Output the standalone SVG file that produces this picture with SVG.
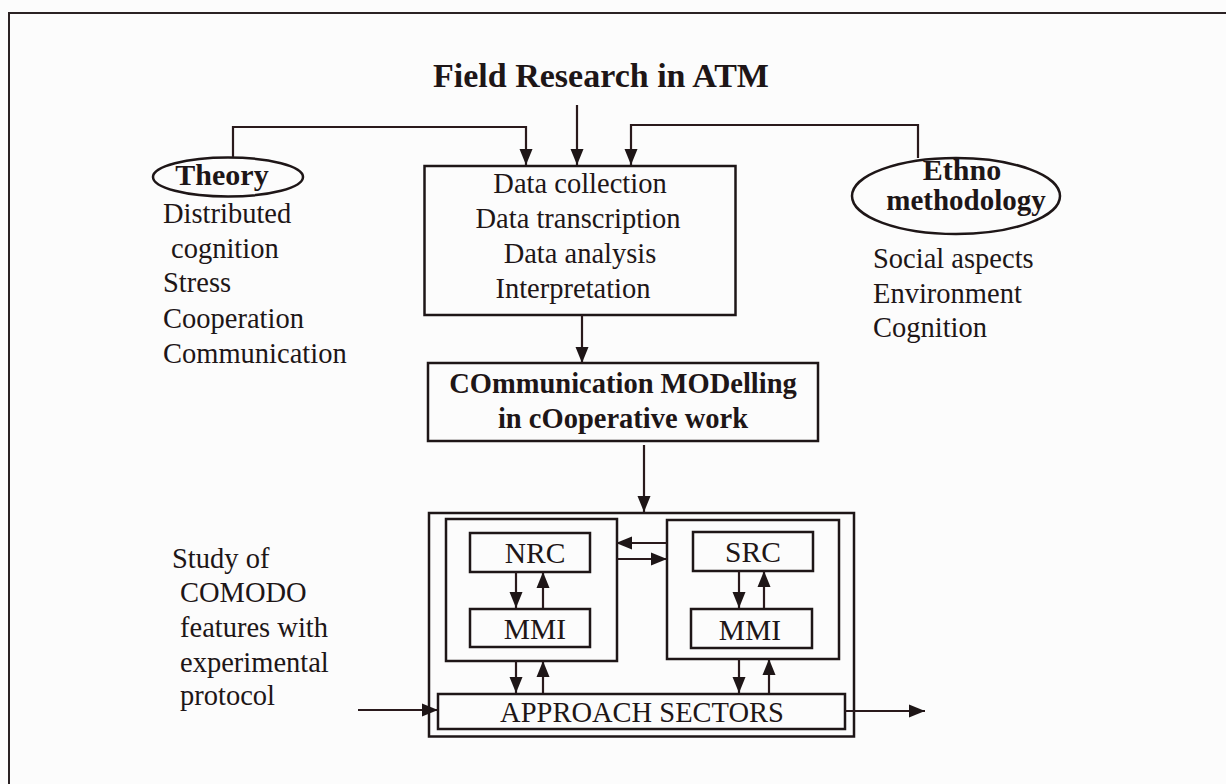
<svg xmlns="http://www.w3.org/2000/svg" width="1226" height="784" viewBox="0 0 1226 784">
<defs>
<style>
.t{font-family:"Liberation Serif","Times New Roman",serif;font-size:28.5px;fill:#1e1617}
.b{font-weight:bold}
.m{text-anchor:middle}
.box{fill:none;stroke:#1e1617;stroke-width:2.5}
.ln{fill:none;stroke:#2a1a1c;stroke-width:2.2}
</style>
<marker id="ah" markerUnits="userSpaceOnUse" markerWidth="16" markerHeight="14" viewBox="0 0 16 14" refX="16" refY="7" orient="auto">
<path d="M0,0.5 L16,7 L0,13.5 Z" fill="#1e1617"/>
</marker>
</defs>
<rect x="0" y="0" width="1226" height="784" fill="#fcfcfc"/>
<path d="M9,784 V13 H1226" fill="none" stroke="#2b2224" stroke-width="2"/>

<text class="t b m" x="601" y="87" style="font-size:34px">Field Research in ATM</text>

<g id="theory">
<ellipse cx="228" cy="177" rx="75" ry="19.5" class="box" stroke-width="2.2"/>
<text class="t b m" x="222" y="185" style="font-size:30px">Theory</text>
<text class="t" x="163" y="223">Distributed</text>
<text class="t" x="171" y="258">cognition</text>
<text class="t" x="163" y="292">Stress</text>
<text class="t" x="163" y="328">Cooperation</text>
<text class="t" x="163" y="363">Communication</text>
</g>

<g id="ethno">
<ellipse cx="956" cy="196" rx="104" ry="38" class="box" stroke-width="2.2"/>
<text class="t b m" x="962" y="180" style="font-size:30px">Ethno</text>
<text class="t b m" x="966" y="210" style="font-size:29px">methodology</text>
<text class="t" x="873" y="268">Social aspects</text>
<text class="t" x="873" y="303">Environment</text>
<text class="t" x="873" y="337">Cognition</text>
</g>

<g id="data">
<rect x="424.5" y="166" width="311" height="149" class="box"/>
<text class="t m" x="580" y="193">Data collection</text>
<text class="t m" x="578" y="228">Data transcription</text>
<text class="t m" x="580" y="263">Data analysis</text>
<text class="t m" x="573" y="298">Interpretation</text>
</g>

<g id="comodo">
<rect x="428" y="363" width="390" height="78" class="box"/>
<text class="t b m" x="623" y="393" style="font-size:28.5px">COmmunication MODelling</text>
<text class="t b m" x="623" y="428" style="font-size:28.5px">in cOoperative work</text>
</g>

<g id="study">
<text class="t" x="172" y="568">Study of</text>
<text class="t" x="180" y="602">COMODO</text>
<text class="t" x="180" y="637">features with</text>
<text class="t" x="180" y="672">experimental</text>
<text class="t" x="180" y="705">protocol</text>
</g>

<g id="system">
<rect x="429" y="513" width="425" height="223.5" class="box"/>
</g>
<g id="nrc-group">
<rect x="446" y="519" width="171" height="142" class="box"/>
</g>
<g id="src-group">
<rect x="667" y="520" width="172" height="139" class="box"/>
</g>
<g id="nrc">
<rect x="470" y="533" width="120" height="39" class="box"/>
<text class="t m" x="535" y="563" style="font-size:29.5px">NRC</text>
</g>
<g id="mmi-left">
<rect x="470" y="609" width="120" height="38" class="box"/>
<text class="t m" x="535" y="639" style="font-size:29.5px">MMI</text>
</g>
<g id="src">
<rect x="693" y="532" width="120" height="39" class="box"/>
<text class="t m" x="753" y="562" style="font-size:29.5px">SRC</text>
</g>
<g id="mmi-right">
<rect x="691" y="609" width="121" height="39" class="box"/>
<text class="t m" x="750" y="640" style="font-size:29.5px">MMI</text>
</g>
<g id="approach">
<rect x="438" y="694" width="407" height="35" class="box"/>
<text class="t m" x="642" y="722">APPROACH SECTORS</text>
</g>

<g id="connectors" class="ln">
<path d="M233,157 V127 H526 V165" marker-end="url(#ah)"/>
<path d="M577,105 V165" marker-end="url(#ah)"/>
<path d="M918,158 V125 H631 V165" marker-end="url(#ah)"/>
<path d="M582,315 V363" marker-end="url(#ah)"/>
<path d="M644,445 V512" marker-end="url(#ah)"/>
<path d="M516,572 V608" marker-end="url(#ah)"/>
<path d="M543,608 V572" marker-end="url(#ah)"/>
<path d="M516,661 V693" marker-end="url(#ah)"/>
<path d="M543,693 V661" marker-end="url(#ah)"/>
<path d="M739,571 V608" marker-end="url(#ah)"/>
<path d="M764,608 V571" marker-end="url(#ah)"/>
<path d="M739,659 V693" marker-end="url(#ah)"/>
<path d="M769,693 V659" marker-end="url(#ah)"/>
<path d="M667,543 H616" marker-end="url(#ah)"/>
<path d="M617,559 H667" marker-end="url(#ah)"/>
<path d="M358,710 H438" marker-end="url(#ah)"/>
<path d="M845,711 H925" marker-end="url(#ah)"/>
</g>
</svg>
